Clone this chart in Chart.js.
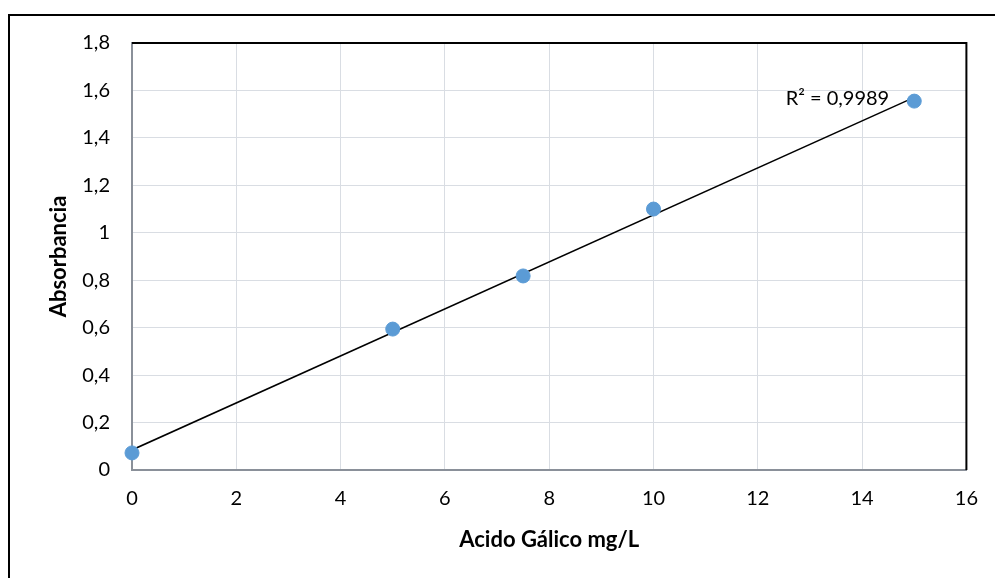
<!DOCTYPE html>
<html>
<head>
<meta charset="utf-8">
<script src="https://cdn.jsdelivr.net/npm/chart.js@4/dist/chart.umd.min.js"></script>
<style>
  html, body { margin: 0; padding: 0; background: #fff; }
  #wrap { position: relative; width: 995px; height: 578px; overflow: hidden; }
  #frame { position: absolute; left: 8px; top: 14px; width: 1200px; height: 800px; border: 2px solid #000; box-sizing: border-box; }
  canvas { position: absolute; left: 0; top: 0; }
</style>
</head>
<body>
<div id="wrap">
  <div id="frame"></div>
  <canvas id="curveChart" width="995" height="578"></canvas>
</div>
<script>
// concentracion de acido galico (mg/L) y absorbancia
const concentracion = [0, 5, 7.5, 10, 15];
const absorbancia = [0.072, 0.594, 0.818, 1.1, 1.555];
const r2Text = 'R² = 0,9989';

// linear trendline (least squares)
const n = concentracion.length;
const mx = concentracion.reduce((a, b) => a + b, 0) / n;
const my = absorbancia.reduce((a, b) => a + b, 0) / n;
let sxy = 0, sxx = 0;
for (let i = 0; i < n; i++) {
  sxy += (concentracion[i] - mx) * (absorbancia[i] - my);
  sxx += (concentracion[i] - mx) ** 2;
}
const slope = sxy / sxx;
const intercept = my - slope * mx;
const xMin = Math.min(...concentracion), xMax = Math.max(...concentracion);
const trend = [
  { x: xMin, y: intercept + slope * xMin },
  { x: xMax, y: intercept + slope * xMax }
];

const FONT = 'Lato, "Open Sans", sans-serif';
const fmt = v => String(Math.round(v * 10) / 10).replace('.', ',');

// black top and right edges of the plot area, plus the R² label
const extras = {
  id: 'extras',
  beforeDatasetsDraw(chart) {
    const { ctx, chartArea: a } = chart;
    ctx.save();
    ctx.strokeStyle = '#000';
    ctx.lineWidth = 2;
    ctx.beginPath();
    ctx.moveTo(a.left, a.top);
    ctx.lineTo(a.right, a.top);
    ctx.lineTo(a.right, a.bottom);
    ctx.stroke();
    ctx.restore();
  },
  afterDatasetsDraw(chart) {
    const { ctx, scales } = chart;
    ctx.save();
    ctx.font = '20px ' + FONT;
    ctx.fillStyle = '#000';
    ctx.textAlign = 'right';
    ctx.textBaseline = 'middle';
    ctx.fillText(r2Text, scales.x.getPixelForValue(14.52), scales.y.getPixelForValue(1.565));
    ctx.restore();
  }
};

const ctx = document.getElementById('curveChart').getContext('2d');
new Chart(ctx, {
  type: 'scatter',
  data: {
    datasets: [
      {
        label: 'Absorbancia',
        data: concentracion.map((x, i) => ({ x: x, y: absorbancia[i] })),
        backgroundColor: '#5B9BD5',
        borderColor: '#5B9BD5',
        pointRadius: 7,
        pointHoverRadius: 7,
        clip: false,
        order: 1
      },
      {
        label: 'Lineal',
        type: 'line',
        data: trend,
        borderColor: '#000',
        borderWidth: 1.5,
        pointRadius: 0,
        fill: false,
        order: 2
      }
    ]
  },
  options: {
    responsive: false,
    animation: false,
    layout: { padding: { top: 43, right: 27, left: 0, bottom: 0 } },
    plugins: { legend: { display: false }, tooltip: { enabled: false } },
    scales: {
      x: {
        type: 'linear',
        min: 0, max: 16,
        ticks: { stepSize: 2, padding: 17, color: '#000', font: { family: FONT, size: 20 }, callback: fmt },
        grid: { color: '#D9DDE3', lineWidth: 1, drawTicks: false },
        border: { color: '#8A9099', width: 2 },
        title: { display: true, text: 'Acido Gálico mg/L', color: '#000', font: { family: FONT, size: 22, weight: 'bold' }, padding: 25 },
        afterFit: s => { s.height = 108; }
      },
      y: {
        min: 0, max: 1.8,
        ticks: { stepSize: 0.2, padding: 22, color: '#000', font: { family: FONT, size: 20 }, callback: fmt },
        grid: { color: '#D9DDE3', lineWidth: 1, drawTicks: false },
        border: { color: '#8A9099', width: 2 },
        title: { display: true, text: 'Absorbancia', color: '#000', font: { family: FONT, size: 22, weight: 'bold' }, padding: 46 },
        afterFit: s => { s.width = 132; }
      }
    }
  },
  plugins: [extras]
});
</script>
</body>
</html>
